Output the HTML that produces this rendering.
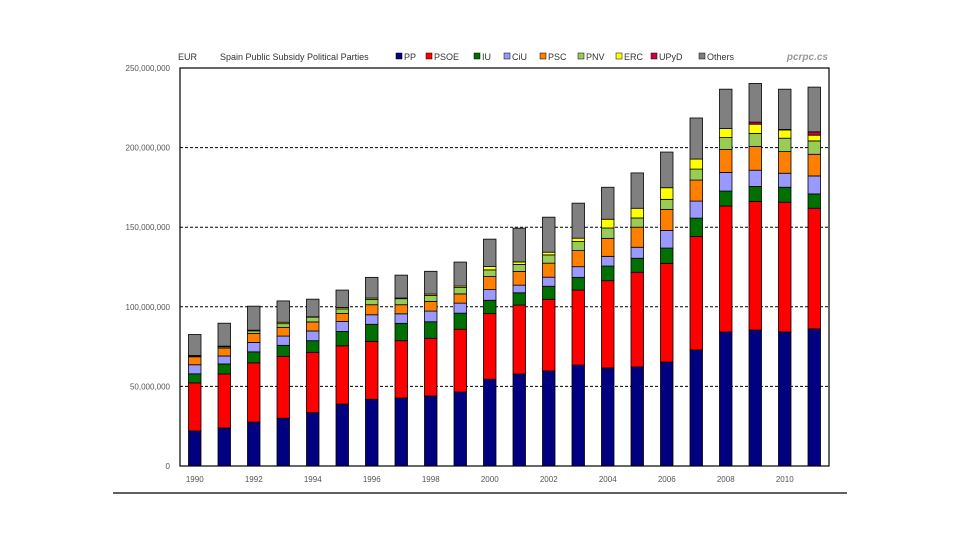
<!DOCTYPE html>
<html><head><meta charset="utf-8"><style>
body{margin:0;background:#fff;}
svg text{font-family:"Liberation Sans",sans-serif;}
</style></head><body>
<svg width="960" height="540" xmlns="http://www.w3.org/2000/svg">
<g id="legend"></g>
<g id="grid"></g><g id="bars"></g><g id="axes"></g>
</svg>
<script>
const years=[1990,1991,1992,1993,1994,1995,1996,1997,1998,1999,2000,2001,2002,2003,2004,2005,2006,2007,2008,2009,2010,2011];
const seriesNames=["PP","PSOE","IU","CiU","PSC","PNV","ERC","UPyD","Others"];
const seriesColors=["#000080","#ff0000","#007000","#9999ff","#ff8000","#99cc55","#ffff00","#cc0044","#808080"];
const PP=[22.0,23.9,27.6,30.0,33.5,38.9,41.9,42.7,44.0,46.5,54.5,57.8,59.7,63.4,61.6,62.2,65.3,72.9,84.2,85.4,84.2,86.1];
const PSOE=[30.2,33.9,37.2,38.9,37.9,36.6,36.4,36.0,36.2,39.4,41.2,43.3,45.0,47.1,54.8,59.5,62.0,71.2,79.1,80.8,81.5,75.8];
const IU=[5.7,6.3,6.9,6.9,7.3,9.0,10.7,10.9,10.4,10.1,8.4,7.7,8.2,8.0,9.2,8.8,9.6,11.6,9.4,9.4,9.4,9.0];
const CiU=[5.7,5.0,5.9,5.8,6.1,6.3,6.0,6.0,6.7,6.3,6.7,4.8,5.7,6.7,6.1,6.9,11.1,10.7,11.7,10.2,8.8,11.3];
const PSC=[5.0,5.0,5.7,5.5,5.7,5.0,6.3,5.7,6.1,5.8,8.2,8.6,8.8,10.1,11.3,12.6,13.2,13.2,14.4,14.9,13.6,13.6];
const PNV=[0.6,0.8,1.6,2.3,3.0,2.9,3.4,3.8,3.8,4.0,4.2,4.4,5.2,5.7,6.5,5.8,6.3,6.9,7.5,8.2,8.4,8.4];
const ERC=[0.2,0.4,0.4,0.9,0.2,0.9,0.8,0.4,0.8,0.9,2.1,1.6,1.7,2.1,5.5,6.1,7.3,6.3,5.7,5.8,5.2,3.6];
const UPyD=[0,0,0,0,0,0,0,0,0,0,0,0,0,0,0,0,0,0,0,1.3,0.3,2.1];
const Others=[13.2,14.4,15.1,13.4,11.1,10.9,13.0,14.4,14.3,15.1,17.2,21.2,22.0,22.0,20.1,22.2,22.4,25.8,24.7,24.3,25.3,28.1];
const series=[PP,PSOE,IU,CiU,PSC,PNV,ERC,UPyD,Others];
const yTicks=[0,50,100,150,200,250];
const yTickLabels=["0","50,000,000","100,000,000","150,000,000","200,000,000","250,000,000"];
const xLabelYears=[1990,1992,1994,1996,1998,2000,2002,2004,2006,2008,2010];

const NS="http://www.w3.org/2000/svg";
const L=180,R=829,T=68,B=466,yMax=250;
const band=(R-L)/years.length, bw=12.5;
const y=v=>B-(v/yMax)*(B-T);
const x=i=>L+band*(i+0.5);
function mk(tag,attrs,parent){const e=document.createElementNS(NS,tag);for(const k in attrs)e.setAttribute(k,attrs[k]);parent.appendChild(e);return e;}
const grid=document.getElementById('grid'),bars=document.getElementById('bars'),axes=document.getElementById('axes'),legend=document.getElementById('legend');

yTicks.forEach((t,i)=>{
  if(t>0&&t<yMax){const g=mk('line',{x1:L,x2:R,y1:y(t),y2:y(t),stroke:'#000','stroke-width':1,'stroke-dasharray':'3,2'},grid);
  
  }
  const tx=mk('text',{x:170,y:y(t)+3,'text-anchor':'end','font-size':8,fill:'#555'},axes);
  tx.textContent=yTickLabels[i];
  
  
});
years.forEach((yr,i)=>{
  let cum=0;
  series.forEach((s,k)=>{
    const v=s[i]; if(v<=0){return;}
    const r=mk('rect',{x:x(i)-bw/2,y:y(cum+v),width:bw,height:y(cum)-y(cum+v),fill:seriesColors[k],stroke:'#000','stroke-width':0.8},bars);
    
    
    cum+=v;
  });
  if(xLabelYears.includes(yr)){
    const tx=mk('text',{x:x(i),y:482,'text-anchor':'middle','font-size':8,fill:'#555'},axes);
    tx.textContent=yr;
    
    
  }
});
const frame=mk('rect',{x:L,y:T,width:R-L,height:B-T,fill:'none',stroke:'#000','stroke-width':1.2},axes);


const bl=mk('line',{x1:113,x2:847,y1:493,y2:493,stroke:'#000','stroke-width':1.2},axes);



const t1=mk('text',{x:178,y:60,'font-size':9,fill:'#333'},legend);t1.textContent='EUR';


const t2=mk('text',{x:220,y:60,'font-size':9,fill:'#333'},legend);t2.textContent='Spain Public Subsidy Political Parties';


const lx=[396,426,474,504,540,578,616,651,699];
seriesNames.forEach((n,k)=>{
  const sq=mk('rect',{x:lx[k],y:53,width:6,height:6,fill:seriesColors[k],stroke:'#000','stroke-width':0.5},legend);
  
  
  const tx=mk('text',{x:lx[k]+8,y:60,'font-size':9,fill:'#333'},legend);tx.textContent=n;
  
  
});
const src=mk('text',{x:828,y:60,'text-anchor':'end','font-size':10,'font-style':'italic','font-weight':'bold',fill:'#999'},legend);
src.textContent='pcrpc.cs';


</script>
</body></html>
